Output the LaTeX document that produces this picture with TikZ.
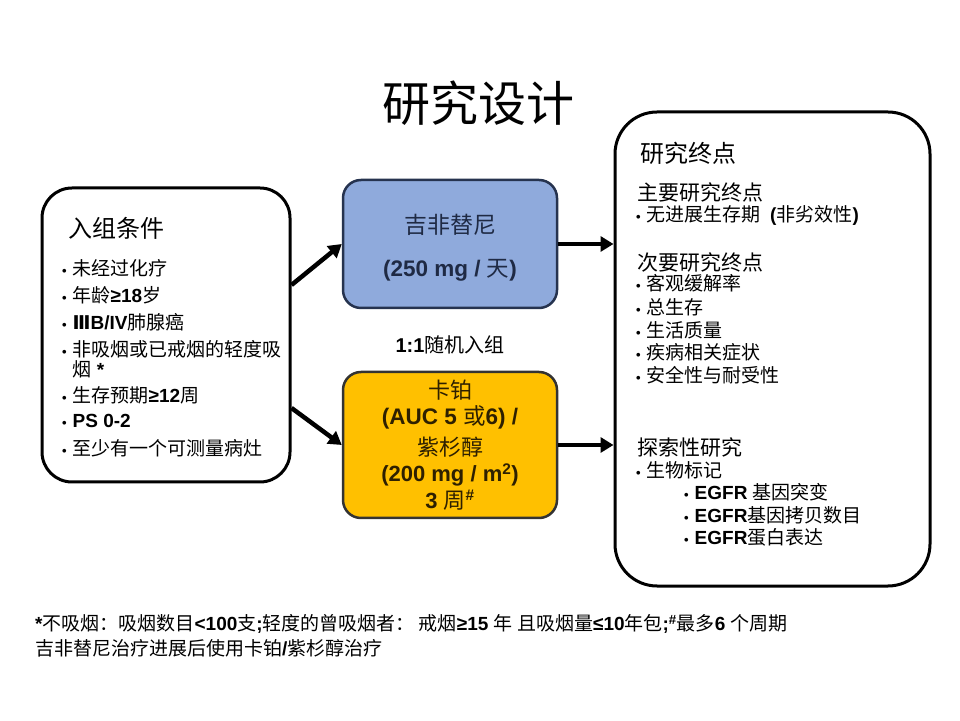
\documentclass[tikz,border=0pt]{standalone}
\usepackage{fontspec}
\setmainfont{Liberation Sans}
\newfontfamily\cjk{Noto Sans CJK SC}
\newfontfamily\dvs{DejaVu Sans}
\usetikzlibrary{arrows.meta}
\newcommand\la[1]{{\normalfont\bfseries #1}}
\newcommand\fsz[1]{\fontsize{#1}{#1}\selectfont}
\newcommand\bul{\makebox[10.5pt][l]{\normalfont\bfseries\fontsize{13}{13}\selectfont •}}
\definecolor{bluefill}{HTML}{8FAADC}
\definecolor{bluebd}{HTML}{26334F}
\definecolor{bluetx}{HTML}{1F2A44}
\definecolor{yelfill}{HTML}{FFC000}
\definecolor{yelbd}{HTML}{333333}
\definecolor{yeltx}{HTML}{2E2000}
\begin{document}
\begin{tikzpicture}[x=1pt,y=1pt,
  every node/.style={inner sep=0pt, font=\cjk},
  txt/.style={anchor=west},
  bigbox/.style={draw=black, line width=3pt, fill=white},
  armbox/.style={line width=2.5pt, rounded corners=18pt, minimum width=214pt},
  arr/.style={line width=4.5pt, -{Triangle[length=13pt,width=15pt]}},
]
\useasboundingbox (0,0) rectangle (960,720);
\fill[white] (0,0) rectangle (960,720);

% title
\node (title) at (478,617) {\fsz{48}研究设计};

% boxes
\node[bigbox, rounded corners=30pt, minimum width=248pt, minimum height=294pt] (lb) at (166,385) {};
\node[bigbox, rounded corners=42pt, minimum width=315pt, minimum height=474pt] (rb) at (772.5,371) {};
\node[armbox, draw=bluebd, fill=bluefill, minimum height=128pt] (gef) at (450,476) {};
\node[armbox, draw=yelbd, fill=yelfill, minimum height=146pt] (chemo) at (450,275) {};

% arrows
\draw[arr] ([yshift=50pt]lb.east) -- (gef.west);
\draw[arr] ([yshift=-73pt]lb.east) -- (chemo.west);
\draw[arr] (gef.east) -- (gef.east -| rb.west);
\draw[arr] (chemo.east) -- (chemo.east -| rb.west);

% left box text
\node[txt] (lh) at (68,492) {\fsz{24}入组条件};
\node[txt] (l1) at (62,452) {\fsz{19}\bul 未经过化疗};
\node[txt] (l2) at (62,425) {\fsz{19}\bul 年龄\la{≥18}岁};
\node[txt] (l3) at (62,398) {\fsz{19}\bul {\dvs\bfseries Ⅲ}\la{B/IV}肺腺癌};
\node[txt] (l4) at (62,371) {\fsz{19}\bul 非吸烟或已戒烟的轻度吸};
\node[txt] (l4b) at (72.5,351) {\fsz{19}烟\la{ *}};
\node[txt] (l5) at (62,325) {\fsz{19}\bul 生存预期\la{≥12}周};
\node[txt] (l6) at (62,299) {\fsz{19}\bul \la{PS 0-2}};
\node[txt] (l7) at (62,272) {\fsz{19}\bul 至少有一个可测量病灶};

% blue box text
\node[text=bluetx] (g1) at (450,495) {\fsz{23}吉非替尼};
\node[text=bluetx] (g2) at (450,450) {\fsz{22.5}\la{(250 mg / }天\la{)}};

% randomisation label
\node (rand) at (450,375) {\fsz{20}\la{1:1}随机入组};

% yellow box text
\node[text=yeltx] (c1) at (450,330) {\fsz{22}卡铂};
\node[text=yeltx] (c2) at (450,303) {\fsz{22.5}\la{(AUC 5 }或\la{6) /}};
\node[text=yeltx] (c3) at (450,273) {\fsz{22}紫杉醇};
\node[text=yeltx] (c4) at (450,245) {\fsz{22}\la{(200 mg / m\textsuperscript{2})}};
\node[text=yeltx] (c5) at (450,220) {\fsz{22}\la{3 }周\textsuperscript{\la{\#}}};

% right box text
\node[txt] (rh) at (640,567) {\fsz{24}研究终点};
\node[txt] (p0) at (637,528) {\fsz{21}主要研究终点};
\node[txt] (p1) at (636,505) {\fsz{19}\bul 无进展生存期 \la{ (}非劣效性\la{)}};
\node[txt] (s0) at (637,458) {\fsz{21}次要研究终点};
\node[txt] (s1) at (636,437) {\fsz{19}\bul 客观缓解率};
\node[txt] (s2) at (636,413) {\fsz{19}\bul 总生存};
\node[txt] (s3) at (636,390) {\fsz{19}\bul 生活质量};
\node[txt] (s4) at (636,368) {\fsz{19}\bul 疾病相关症状};
\node[txt] (s5) at (636,345) {\fsz{19}\bul 安全性与耐受性};
\node[txt] (e0) at (637,273) {\fsz{21}探索性研究};
\node[txt] (e1) at (636,250) {\fsz{19}\bul 生物标记};
\node[txt] (e2) at (684,228) {\fsz{19}\bul \la{EGFR }基因突变};
\node[txt] (e3) at (684,205) {\fsz{19}\bul \la{EGFR}基因拷贝数目};
\node[txt] (e4) at (684,183) {\fsz{19}\bul \la{EGFR}蛋白表达};

% footnotes
\node[txt] (f1) at (35,96) {\fsz{19}\la{*}不吸烟：吸烟数目\la{<100}支\la{;}轻度的曾吸烟者： 戒烟\la{≥15 }年 且吸烟量\la{≤10}年包\la{;}\textsuperscript{\la{\#}}最多\la{6 }个周期};
\node[txt] (f2) at (35,72) {\fsz{19}吉非替尼治疗进展后使用卡铂\la{/}紫杉醇治疗};
\end{tikzpicture}
\end{document}
